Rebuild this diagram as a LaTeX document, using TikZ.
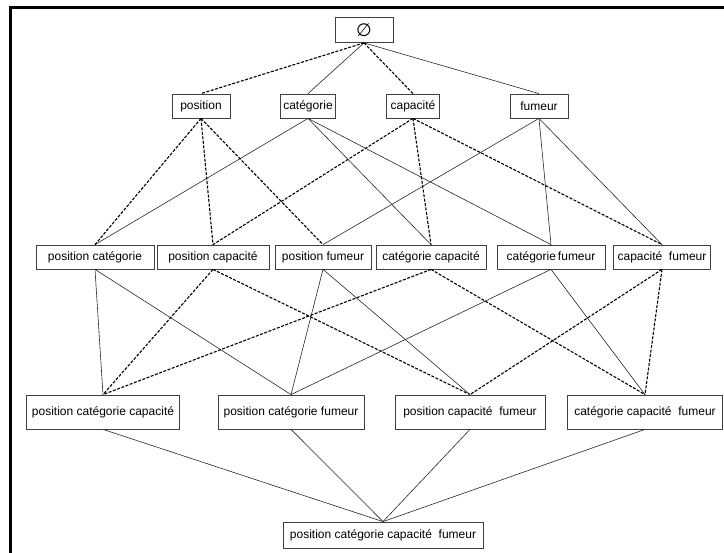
\documentclass[tikz,border=0pt]{standalone}
\usepackage{fontspec}
\setmainfont{Liberation Sans}
\newfontfamily\symbfont{DejaVu Sans}
\begin{document}
\begin{tikzpicture}[x=1pt,y=-1pt,
    attr/.style={draw=black!75,line width=0.8pt,fill=white,font=\fontsize{12}{14}\selectfont,
      inner xsep=3pt,inner ysep=0pt,minimum height=24pt},
    lien/.style={black!85,line width=0.6pt},
    lienpt/.style={black,line width=1.1pt,dash pattern=on 3pt off 1.5pt}]
      \useasboundingbox (0,0) rectangle (724,553);
      \begin{scope}
        \clip (0,0) rectangle (724,553);
        \draw[line width=2.6pt] (10.5,600) -- (10.5,7.5) -- (760,7.5);
      \end{scope}
      \draw
        (364,30) node[attr,minimum width=58pt,minimum height=25pt] (0){\symbfont\fontsize{18}{18}\selectfont ∅}
        (201,106) node[attr,minimum width=58pt] (p){position}
        (308,106) node[attr,minimum width=52pt] (c){catégorie}
        (413,106) node[attr,minimum width=53pt] (k){capacité}
        (539,106) node[attr,minimum width=58pt] (f){fumeur}
        (95,257) node[attr,minimum width=118pt] (pc){position catégorie}
        (213,257) node[attr,minimum width=112pt] (pk){position capacité}
        (323,257) node[attr,minimum width=96pt] (pf){position fumeur}
        (431,257) node[attr,minimum width=110pt] (ck){catégorie capacité}
        (551,257) node[attr,minimum width=108pt] (cf){catégorie\,fumeur}
        (662,257) node[attr,minimum width=97pt] (kf){capacité\ \ fumeur}
        (103,412) node[attr,minimum width=153pt,minimum height=34pt] (pck){position catégorie capacité}
        (291,412) node[attr,minimum width=146pt,minimum height=34pt] (pcf){position catégorie fumeur}
        (470,412) node[attr,minimum width=150pt,minimum height=34pt] (pkf){position capacité\ \ fumeur}
        (645,412) node[attr,minimum width=155pt,minimum height=34pt] (ckf){catégorie capacité\ \ fumeur}
        (383,535) node[attr,minimum width=200pt,minimum height=26pt] (pckf){position catégorie capacité\ \ fumeur};
      \begin{scope}[lien]
        \draw (0.south) to (c.north);
        \draw (0.south) to (f.north);
        \draw (c.south) to (pc.north);
        \draw (c.south) to (ck.north);
        \draw (c.south) to (cf.north);
        \draw (f.south) to (pf.north);
        \draw (f.south) to (cf.north);
        \draw (f.south) to (kf.north);
        \draw (pc.south) to (pck.north);
        \draw (pc.south) to (pcf.north);
        \draw (pf.south) to (pcf.north);
        \draw (pf.south) to (pkf.north);
        \draw (cf.south) to (pcf.north);
        \draw (cf.south) to (ckf.north);
        \draw (pck.south) to (pckf.north);
        \draw (pcf.south) to (pckf.north);
        \draw (pkf.south) to (pckf.north);
        \draw (ckf.south) to (pckf.north);
      \end{scope}
      \begin{scope}[lienpt]
        \draw (0.south) to (p.north);
        \draw (0.south) to (k.north);
        \draw (p.south) to (pc.north);
        \draw (p.south) to (pk.north);
        \draw (p.south) to (pf.north);
        \draw (k.south) to (pk.north);
        \draw (k.south) to (ck.north);
        \draw (k.south) to (kf.north);
        \draw (pk.south) to (pck.north);
        \draw (pk.south) to (pkf.north);
        \draw (ck.south) to (pck.north);
        \draw (ck.south) to (ckf.north);
        \draw (kf.south) to (pkf.north);
        \draw (kf.south) to (ckf.north);
      \end{scope}
    \end{tikzpicture}
\end{document}
